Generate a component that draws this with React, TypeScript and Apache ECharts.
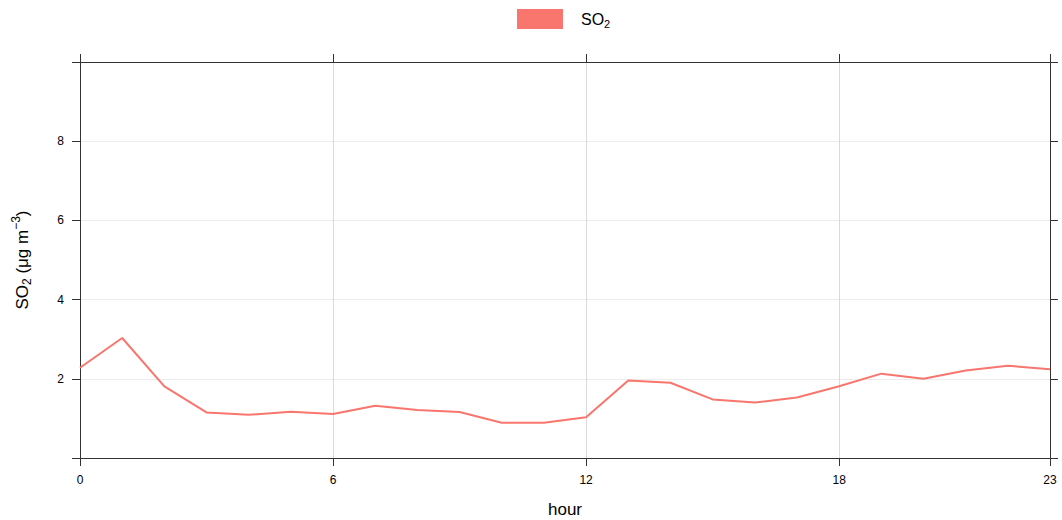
import React, { useEffect, useRef } from "react";
import * as echarts from "echarts";

const hours = [0, 1, 2, 3, 4, 5, 6, 7, 8, 9, 10, 11, 12, 13, 14, 15, 16, 17, 18, 19, 20, 21, 22, 23];
const so2 = [2.28, 3.03, 1.81, 1.15, 1.09, 1.17, 1.11, 1.32, 1.21, 1.16, 0.89, 0.89, 1.03, 1.96, 1.9, 1.48, 1.4, 1.53, 1.81, 2.13, 2.0, 2.21, 2.33, 2.24];
const seriesName = "SO2";
const lineColor = "#F8766D";

export default function App() {
  const ref = useRef<HTMLDivElement>(null);
  useEffect(() => {
    if (!ref.current) return;
    const chart = echarts.init(ref.current, undefined, { renderer: "svg" });
    const axisColor = "#333333";
    const font = "Arial, 'Liberation Sans', sans-serif";
    const hideEnds = (v: number) => (v === 0 || v === 10 ? "" : String(v));
    chart.setOption({
      animation: false,
      textStyle: { fontFamily: font },
      legend: {
        top: 4,
        left: 512,
        icon: "rect",
        itemWidth: 46,
        itemHeight: 20,
        itemGap: 10,
        data: [seriesName],
        formatter: () => "{a|SO}{b|2}",
        textStyle: {
          rich: {
            a: { fontSize: 16, color: "#000", fontFamily: font, padding: [0, 0, 0, 13] },
            b: { fontSize: 11, color: "#000", fontFamily: font, padding: [9, 0, 0, 0] },
          },
        },
      },
      grid: { left: 80, right: 12, top: 62, bottom: 62, containLabel: false, outerBoundsMode: "none" },
      xAxis: [
        {
          type: "value",
          min: 0,
          max: 23,
          interval: 6,
          position: "bottom",
          name: "hour",
          nameLocation: "middle",
          nameGap: 43,
          nameTextStyle: { fontSize: 17, color: "#000", fontFamily: font },
          axisLine: { show: true, onZero: false, lineStyle: { color: axisColor, width: 1 } },
          axisTick: { show: true, inside: false, length: 8, lineStyle: { color: axisColor } },
          axisLabel: { show: true, margin: 16, fontSize: 12, color: "#000", fontFamily: font },
          splitLine: { show: true, lineStyle: { color: "#dadada", width: 1 } },
        },
        {
          type: "value",
          min: 0,
          max: 23,
          interval: 6,
          position: "top",
          axisLine: { show: true, onZero: false, lineStyle: { color: axisColor, width: 1 } },
          axisTick: { show: true, inside: false, length: 8, lineStyle: { color: axisColor } },
          axisLabel: { show: false },
          splitLine: { show: false },
        },
      ],
      yAxis: [
        {
          type: "value",
          min: 0,
          max: 10,
          interval: 2,
          position: "left",
          name: "{a|SO}{b|2}{a| (μg m}{c|−3}{a|)}",
          nameLocation: "middle",
          nameRotate: 90,
          nameGap: 46,
          nameTextStyle: {
            rich: {
              a: { fontSize: 17, color: "#000", fontFamily: font },
              b: { fontSize: 12, color: "#000", fontFamily: font, padding: [9, 0, 0, 0] },
              c: { fontSize: 12, color: "#000", fontFamily: font, padding: [0, 0, 12, 0] },
            },
          },
          axisLine: { show: true, onZero: false, lineStyle: { color: axisColor, width: 1 } },
          axisTick: { show: true, inside: false, length: 8, lineStyle: { color: axisColor } },
          axisLabel: { show: true, margin: 16, fontSize: 12, color: "#000", fontFamily: font, formatter: hideEnds },
          splitLine: { show: true, lineStyle: { color: "#ececec", width: 1 } },
        },
        {
          type: "value",
          min: 0,
          max: 10,
          interval: 2,
          position: "right",
          axisLine: { show: true, onZero: false, lineStyle: { color: axisColor, width: 1 } },
          axisTick: { show: true, inside: false, length: 8, lineStyle: { color: axisColor } },
          axisLabel: { show: false },
          splitLine: { show: false },
        },
      ],
      series: [
        {
          name: seriesName,
          type: "line",
          xAxisIndex: 0,
          yAxisIndex: 0,
          data: hours.map((h, i) => [h, so2[i]]),
          showSymbol: false,
          symbol: "none",
          color: lineColor,
          lineStyle: { color: lineColor, width: 2 },
        },
      ],
    });
    return () => chart.dispose();
  }, []);
  return (
    <div
      ref={ref}
      style={{ position: "absolute", left: 0, top: 0, width: 1062, height: 520, background: "#fff" }}
    />
  );
}
